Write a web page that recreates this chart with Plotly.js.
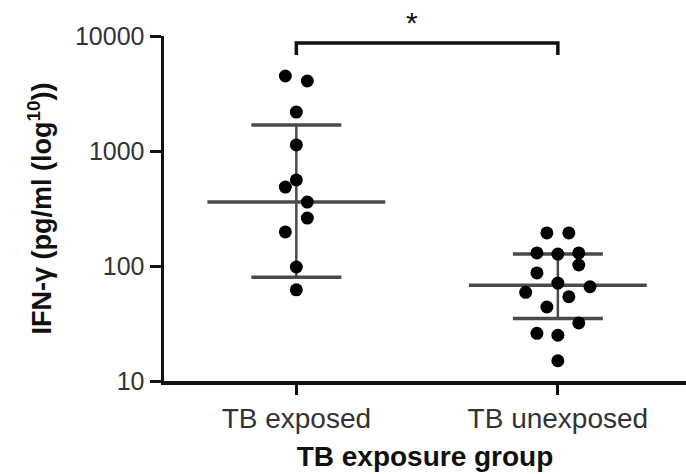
<!DOCTYPE html>
<html>
<head>
<meta charset="utf-8">
<script src="https://cdn.plot.ly/plotly-3.0.1.min.js"></script>
<style>html,body{margin:0;padding:0;background:#fff;}#chart{width:686px;height:474px;}</style>
</head>
<body>
<div id="chart"></div>
<script>
// Categories and tick labels
const categories = ['TB exposed', 'TB unexposed'];
const yTickVals = [10, 100, 1000, 10000];
const yTickText = ['10', '100', '1000', '10000'];

// Individual IFN-γ values (pg/ml)
const exposedValues = [4490, 4060, 2180, 1130, 560, 486, 360, 261, 198, 98, 62];
const exposedJitter = [-0.042, 0.042, 0, 0, 0, -0.042, 0.042, 0.042, -0.042, 0, 0];
const unexposedValues = [194, 194, 130, 127, 130, 102, 87, 71, 66, 59, 54, 44, 32, 26, 25, 15];
const unexposedJitter = [-0.042, 0.042, -0.080, 0, 0.080, 0.080, -0.080, 0, 0.123, -0.123, 0.042, -0.042, 0.080, -0.080, 0, 0];

// Summary lines (median, upper, lower) per group
const medians = [360, 68];
const uppers = [1680, 127];
const lowers = [80, 35];

// Significance bracket
const bracketTop = 8700;
const bracketFoot = 6840;
const sigLabel = '*';

const medHalf = 0.34, whiskHalf = 0.172;
const traces = [];
const lineColor = '#4a4a4a';

categories.forEach((c, i) => {
  traces.push({x: [i, i], y: [lowers[i], uppers[i]], mode: 'lines', line: {color: lineColor, width: 2.5}, hoverinfo: 'skip', showlegend: false});
  traces.push({x: [i - medHalf, i + medHalf], y: [medians[i], medians[i]], mode: 'lines', line: {color: lineColor, width: 3.5}, hoverinfo: 'skip', showlegend: false});
  traces.push({x: [i - whiskHalf, i + whiskHalf], y: [uppers[i], uppers[i]], mode: 'lines', line: {color: lineColor, width: 3.5}, hoverinfo: 'skip', showlegend: false});
  traces.push({x: [i - whiskHalf, i + whiskHalf], y: [lowers[i], lowers[i]], mode: 'lines', line: {color: lineColor, width: 3.5}, hoverinfo: 'skip', showlegend: false});
});

traces.push({
  x: exposedValues.map((v, k) => 0 + exposedJitter[k]), y: exposedValues,
  mode: 'markers', marker: {color: '#000', size: 13}, showlegend: false, name: categories[0]
});
traces.push({
  x: unexposedValues.map((v, k) => 1 + unexposedJitter[k]), y: unexposedValues,
  mode: 'markers', marker: {color: '#000', size: 13}, showlegend: false, name: categories[1]
});

traces.push({x: [0, 0, 1, 1], y: [bracketFoot, bracketTop, bracketTop, bracketFoot], mode: 'lines',
  line: {color: '#111', width: 3.5}, hoverinfo: 'skip', showlegend: false, cliponaxis: false});

const layout = {
  width: 686, height: 474,
  margin: {l: 164, r: 0, t: 36, b: 93},
  paper_bgcolor: '#fff', plot_bgcolor: '#fff',
  font: {family: 'Liberation Sans, Arial, sans-serif', color: '#333'},
  xaxis: {
    range: [-0.506, 1.49], tickvals: [0, 1], ticktext: categories,
    showgrid: false, zeroline: false, showline: true, linecolor: '#111', linewidth: 3.5,
    ticks: 'outside', ticklen: 10, tickwidth: 3, tickcolor: '#111',
    tickfont: {size: 28, color: '#333'},
    title: {text: '<b>TB exposure group</b>', font: {size: 28, color: '#111'}, standoff: 14}
  },
  yaxis: {
    type: 'log', range: [1, 4], tickvals: yTickVals, ticktext: yTickText,
    showgrid: false, zeroline: false, showline: true, linecolor: '#111', linewidth: 3.5,
    ticks: 'outside', ticklen: 11, tickwidth: 3, tickcolor: '#111',
    tickfont: {size: 25, color: '#333'},
    title: {text: '<b>IFN-γ (pg/ml (log<sup>10</sup>))</b>', font: {size: 27, color: '#111'}, standoff: 16}
  },
  annotations: [{
    x: 0.475, y: 1.04, xref: 'paper', yref: 'paper', text: sigLabel, showarrow: false,
    font: {size: 30, color: '#111'}, xanchor: 'center', yanchor: 'middle'
  }]
};

Plotly.newPlot('chart', traces, layout, {displayModeBar: false, staticPlot: true});
</script>
</body>
</html>
